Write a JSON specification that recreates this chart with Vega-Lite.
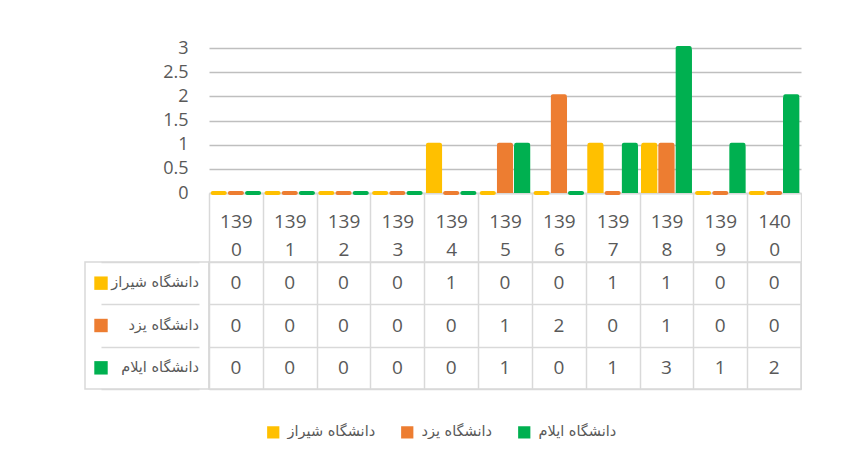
{
  "$schema": "https://vega.github.io/schema/vega-lite/v6.json",
  "padding": {"left": 84, "top": 39, "right": 0, "bottom": 0},
  "background": "white",
  "config": {
    "view": {"stroke": null},
    "font": "Open Sans",
    "axis": {"labelColor": "#595959"}
  },
  "datasets": {
    "d": [
      {"year": "1390", "series": "دانشگاه شیراز", "value": 0},
      {"year": "1391", "series": "دانشگاه شیراز", "value": 0},
      {"year": "1392", "series": "دانشگاه شیراز", "value": 0},
      {"year": "1393", "series": "دانشگاه شیراز", "value": 0},
      {"year": "1394", "series": "دانشگاه شیراز", "value": 1},
      {"year": "1395", "series": "دانشگاه شیراز", "value": 0},
      {"year": "1396", "series": "دانشگاه شیراز", "value": 0},
      {"year": "1397", "series": "دانشگاه شیراز", "value": 1},
      {"year": "1398", "series": "دانشگاه شیراز", "value": 1},
      {"year": "1399", "series": "دانشگاه شیراز", "value": 0},
      {"year": "1400", "series": "دانشگاه شیراز", "value": 0},
      {"year": "1390", "series": "دانشگاه یزد", "value": 0},
      {"year": "1391", "series": "دانشگاه یزد", "value": 0},
      {"year": "1392", "series": "دانشگاه یزد", "value": 0},
      {"year": "1393", "series": "دانشگاه یزد", "value": 0},
      {"year": "1394", "series": "دانشگاه یزد", "value": 0},
      {"year": "1395", "series": "دانشگاه یزد", "value": 1},
      {"year": "1396", "series": "دانشگاه یزد", "value": 2},
      {"year": "1397", "series": "دانشگاه یزد", "value": 0},
      {"year": "1398", "series": "دانشگاه یزد", "value": 1},
      {"year": "1399", "series": "دانشگاه یزد", "value": 0},
      {"year": "1400", "series": "دانشگاه یزد", "value": 0},
      {"year": "1390", "series": "دانشگاه ایلام", "value": 0},
      {"year": "1391", "series": "دانشگاه ایلام", "value": 0},
      {"year": "1392", "series": "دانشگاه ایلام", "value": 0},
      {"year": "1393", "series": "دانشگاه ایلام", "value": 0},
      {"year": "1394", "series": "دانشگاه ایلام", "value": 0},
      {"year": "1395", "series": "دانشگاه ایلام", "value": 1},
      {"year": "1396", "series": "دانشگاه ایلام", "value": 0},
      {"year": "1397", "series": "دانشگاه ایلام", "value": 1},
      {"year": "1398", "series": "دانشگاه ایلام", "value": 3},
      {"year": "1399", "series": "دانشگاه ایلام", "value": 1},
      {"year": "1400", "series": "دانشگاه ایلام", "value": 2}
    ],
    "s": [
      {"series": "دانشگاه شیراز"},
      {"series": "دانشگاه یزد"},
      {"series": "دانشگاه ایلام"}
    ]
  },
  "columns": 2,
  "spacing": {"row": 69, "column": 0},
  "bounds": "flush",
  "align": "each",
  "resolve": {"scale": {"color": "shared"}},
  "concat": [
    {
      "width": 124,
      "height": 145,
      "data": {"values": [{}]},
      "mark": {"type": "text", "text": ""},
      "encoding": {}
    },
    {
      "width": 592,
      "height": 145,
      "data": {"name": "d"},
      "encoding": {
        "x": {
          "field": "year",
          "type": "nominal",
          "sort": null,
          "scale": {"paddingInner": 0, "paddingOuter": 0},
          "axis": {
            "title": null,
            "labelAngle": 0,
            "labelExpr": "[substring(datum.label,0,3), substring(datum.label,3)]",
            "tickBand": "extent",
            "tickSize": 69,
            "tickColor": "#D9D9D9",
            "tickWidth": 1.5,
            "domainColor": "#D9D9D9",
            "domainWidth": 1.5,
            "labelPadding": -50,
            "labelFontSize": 19,
            "labelLineHeight": 28,
            "labelBaseline": "top"
          }
        },
        "xOffset": {
          "field": "series",
          "type": "nominal",
          "scale": {"domain": ["دانشگاه شیراز", "دانشگاه یزد", "دانشگاه ایلام"], "paddingInner": 0.03, "paddingOuter": 0.08}
        },
        "y": {
          "field": "value",
          "type": "quantitative",
          "scale": {"domain": [0, 3]},
          "axis": {
            "title": null,
            "values": [0, 0.5, 1, 1.5, 2, 2.5, 3],
            "labelExpr": "datum.value + ''",
            "domain": false,
            "ticks": false,
            "labelPadding": 21,
            "labelFontSize": 18,
            "gridColor": "#BFBFBF",
            "gridWidth": 1.5
          }
        },
        "color": {
          "field": "series",
          "type": "nominal",
          "scale": {
            "domain": ["دانشگاه شیراز", "دانشگاه یزد", "دانشگاه ایلام"],
            "range": ["#FFC000", "#ED7D31", "#00B050"]
          },
          "legend": {
            "orient": "none",
            "legendX": 181,
            "legendY": 377,
            "direction": "horizontal",
            "title": null,
            "symbolType": "square",
            "symbolSize": 150,
            "symbolStrokeWidth": 0,
            "labelFontSize": 14.5,
            "labelFont": "DejaVu Sans",
            "labelColor": "#595959",
            "labelOffset": 7,
            "columnPadding": 24
          }
        }
      },
      "layer": [
        {"mark": {"type": "bar", "cornerRadiusEnd": 2}},
        {"mark": {"type": "tick", "thickness": 4, "size": 16, "cornerRadius": 2, "opacity": 1}}
      ]
    },
    {
      "width": 124,
      "height": 127,
      "data": {"name": "s"},
      "view": {"stroke": "#D9D9D9", "strokeWidth": 1.5},
      "encoding": {
        "y": {
          "field": "series",
          "type": "nominal",
          "scale": {"domain": ["دانشگاه شیراز", "دانشگاه یزد", "دانشگاه ایلام"]},
          "axis": {
            "title": null,
            "labels": false,
            "ticks": false,
            "domain": false,
            "grid": true,
            "tickBand": "extent",
            "gridColor": "#D9D9D9",
            "gridWidth": 1.5
          }
        }
      },
      "layer": [
        {
          "mark": {"type": "text", "align": "right", "fontSize": 14.5, "font": "DejaVu Sans", "color": "#595959"},
          "encoding": {
            "x": {"datum": "name", "type": "nominal", "scale": {"type": "point", "padding": 0, "domain": ["swatch", "name"], "range": [16, 114]}, "axis": null},
            "text": {"field": "series"}
          }
        },
        {
          "mark": {"type": "square", "size": 180, "filled": true, "opacity": 1},
          "encoding": {
            "x": {"datum": "swatch", "type": "nominal"},
            "color": {"field": "series", "type": "nominal"}
          }
        }
      ]
    },
    {
      "width": 592,
      "height": 127,
      "data": {"name": "d"},
      "view": {"stroke": "#D9D9D9", "strokeWidth": 1.5},
      "mark": {"type": "text", "fontSize": 19, "color": "#595959"},
      "encoding": {
        "x": {
          "field": "year",
          "type": "nominal",
          "sort": null,
          "scale": {"paddingInner": 0, "paddingOuter": 0},
          "axis": {
            "title": null,
            "labels": false,
            "ticks": false,
            "domain": false,
            "grid": true,
            "tickBand": "extent",
            "gridColor": "#D9D9D9",
            "gridWidth": 1.5
          }
        },
        "y": {
          "field": "series",
          "type": "nominal",
          "scale": {"domain": ["دانشگاه شیراز", "دانشگاه یزد", "دانشگاه ایلام"]},
          "axis": {
            "title": null,
            "labels": false,
            "ticks": false,
            "domain": false,
            "grid": true,
            "tickBand": "extent",
            "gridColor": "#D9D9D9",
            "gridWidth": 1.5
          }
        },
        "text": {"field": "value", "type": "quantitative"}
      }
    }
  ]
}
